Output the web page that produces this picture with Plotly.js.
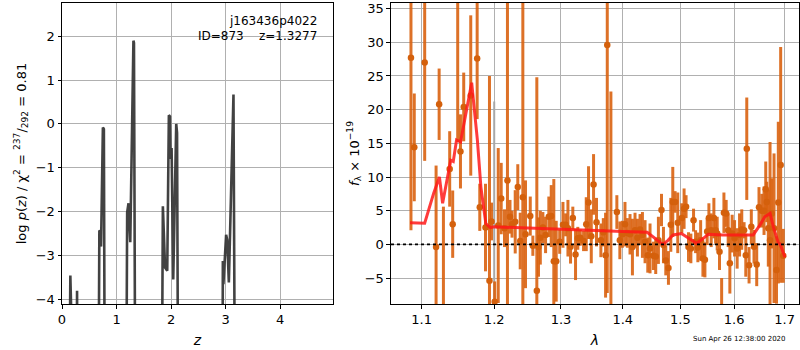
<!DOCTYPE html>
<html>
<head>
<meta charset="utf-8">
<script src="https://cdn.plot.ly/plotly-3.0.1.min.js"></script>
<style>html,body{margin:0;padding:0;background:#fff;}#chart{width:800px;height:350px;}</style>
</head>
<body>
<div id="chart"></div>
<script>
// ---- left panel: log p(z) ----
const zGrid = [0.00, 0.12, 0.153, 0.185, 0.26, 0.276, 0.292, 0.66, 0.685, 0.70, 0.716, 0.75, 0.768, 0.79,
  1.17, 1.195, 1.22, 1.232, 1.252, 1.31, 1.32, 1.35,
  1.80, 1.82, 1.85, 1.89, 1.93, 1.96, 1.98, 1.99, 2.01, 2.04, 2.095, 2.11, 2.137,
  2.92, 2.937, 2.95, 2.96, 3.01, 3.03, 3.06, 3.145, 3.18, 4.97];
const logPz = [-9, -9, -3.46, -9, -9, -3.81, -9, -9, -2.43, -2.45, -2.8, -0.08, -0.12, -9,
  -9, -2.02, -1.81, -2.2, -2.7, 1.90, 1.85, -9,
  -9, -9, -1.88, -3.28, -3.35, 0.2, 0.17, -0.8, -0.55, -3.55, 0.0, -0.2, -9,
  -9, -9, -3.13, -3.66, -2.53, -2.65, -3.62, 0.67, -9, -9];

// ---- right panel: spectrum ----
const lam = [1.0860, 1.0903, 1.1040, 1.1192, 1.1233, 1.1291, 1.1376, 1.1417, 1.1486, 1.1524,
  1.1569, 1.1667, 1.1757, 1.1794, 1.1875, 1.1932, 1.1961, 1.2007, 1.2058, 1.2101,
  1.2149, 1.2192, 1.2229, 1.2259, 1.2306, 1.2344, 1.2380, 1.2419, 1.2459, 1.2530,
  1.2569, 1.2629, 1.2654, 1.2682, 1.2721, 1.2762, 1.2812, 1.2849, 1.2889, 1.2926,
  1.2980, 1.3031, 1.3073, 1.3109, 1.3150, 1.3186, 1.3229, 1.3265, 1.3304, 1.3357,
  1.3400, 1.3437, 1.3481, 1.3518, 1.3566, 1.3637, 1.3677, 1.3714, 1.3742, 1.3802,
  1.3901, 1.3951, 1.3993, 1.4037, 1.4077, 1.4122, 1.4163, 1.4207, 1.4248, 1.4293,
  1.4334, 1.4379, 1.4426, 1.4465, 1.4524, 1.4564, 1.4611, 1.4665, 1.4700, 1.4741,
  1.4788, 1.4830, 1.4865, 1.4906, 1.4954, 1.5027, 1.5068, 1.5104, 1.5148, 1.5191,
  1.5240, 1.5277, 1.5319, 1.5370, 1.5412, 1.5449, 1.5491, 1.5523, 1.5566, 1.5616,
  1.5648, 1.5678, 1.5722, 1.5762, 1.5805, 1.5848, 1.5886, 1.5918, 1.5962, 1.6008,
  1.6058, 1.6104, 1.6147, 1.6192, 1.6225, 1.6244, 1.6289, 1.6333, 1.6386, 1.6439,
  1.6484, 1.6539, 1.6584, 1.6618, 1.6638, 1.6669, 1.6704, 1.6738, 1.6784, 1.6834,
  1.6870, 1.6918, 1.6971];
const flux = [27.7, 14.4, 27.0, -0.4, 20.8, -10, 11.2, 3.0, 40, 13.8,
  20.4, 22.1, 27.6, 5.5, 2.5, -5.4, 3.4, -8.5, 2.8, 6.8,
  2.4, 9.5, 4.1, 3.0, 3.35, 8.5, 0.5, 7.0, 1.5, 4.2,
  -0.2, -6.9, -0.4, 1.0, 2.5, 1.4, 4.1, 4.2, -2.5, -2.5,
  0.4, 2.9, 2.9, 2.4, -0.35, 3.9, -1.5, 0.9, 1.0, 0.5,
  3.0, 6.2, 1.2, 8.9, 3.3, 0.6, 1.8, -1.6, 29.6, -10,
  4.8, 0.6, 1.5, 3.0, 1.7, 1.5, -0.4, 2.1, 1.0, 2.2,
  1.4, 0.4, -1.6, -0.6, -1.7, -1.8, 0.6, 5.1, -0.1, -2.4,
  -3.5, 2.9, 6.3, 6.3, 3.2, 3.9, 5.3, 5.6, -0.4, -0.6,
  3.6, 0.4, -0.45, 0.6, -2.1, -2.3, 1.9, 3.9, 2.1, 3.9,
  2.1, 1.6, -1.1, -12, 4.7, 4.6, 2.1, -2.8, 1.6, 0.9,
  -0.6, 1.4, 2.2, 2.1, -1.6, 14.2, -3.1, 2.6, -0.35, -3.0,
  5.5, 5.0, 5.0, 8.2, 6.3, 2.4, 0.6, 4.6, 2.4, -3.8,
  6.2, 11.8, -1.7];
const fluxErr = [25.6, 8.0, 14.6, 12.1, 5.3, 15.6, 5.6, 5.0, 24.8, 5.5,
  5.1, 11.9, 9.0, 3.5, 6.5, 30.4, 2.8, 3.0, 11.5, 5.3,
  2.8, 30, 2.5, 2.0, 4.7, 3.4, 4.2, 30, 8.0, 2.9,
  1.5, 31.7, 4.4, 4.0, 2.3, 2.7, 3.0, 4.6, 12.2, 6.0,
  1.8, 3.4, 1.7, 4.2, 2.5, 1.7, 3.8, 1.7, 1.2, 1.5,
  4.0, 5.4, 4.0, 4.5, 3.6, 2.5, 2.1, 6.3, 36.8, 32.7,
  2.5, 2.8, 2.0, 3.3, 2.2, 3.0, 4.2, 2.6, 2.8, 2.3,
  3.4, 3.2, 2.6, 3.7, 2.1, 2.6, 3.5, 2.4, 2.7, 2.2,
  2.5, 4.0, 5.2, 1.6, 4.5, 2.2, 3.0, 1.7, 2.2, 2.2,
  1.7, 1.7, 2.2, 3.0, 2.7, 2.6, 2.0, 2.2, 2.5, 3.0,
  2.0, 2.5, 2.7, 7.0, 3.0, 2.0, 2.5, 4.5, 2.8, 2.7,
  3.0, 3.2, 3.0, 1.2, 3.2, 7.6, 2.7, 2.6, 2.5, 3.2,
  3.0, 2.5, 3.6, 4.1, 3.0, 5.7, 14.6, 5.2, 11.1, 5.0,
  12.0, 17.5, 4.0];

// masked (grey) point
const maskLam = [1.2000];
const maskFlux = [-8.5];
const maskErr = [29.7];

// model
const modelLam = [1.0848, 1.1040, 1.1160, 1.1237, 1.1280, 1.1390, 1.1425, 1.1470, 1.1525, 1.1680,
  1.1760, 1.1810, 1.1880, 1.1945, 1.2000, 1.3000, 1.4000, 1.4415, 1.4550, 1.4690,
  1.4780, 1.4870, 1.5020, 1.5140, 1.5295, 1.5420, 1.5510, 1.5780, 1.6370, 1.6505,
  1.6600, 1.6705, 1.6770, 1.6870, 1.6904, 1.7005];
const modelFlux = [3.2, 3.15, 7.6, 10.0, 6.1, 12.5, 12.3, 15.5, 15.2, 24.0,
  15.5, 8.5, 3.1, 2.5, 2.6, 2.2, 1.9, 1.8, 0.9, 0.0,
  0.6, 1.4, 1.6, 1.0, 0.15, 0.9, 1.5, 1.4, 1.4, 2.9,
  4.1, 4.6, 2.6, 0.25, 0.1, -1.9];

const xTicksLeft = [0, 1, 2, 3, 4];
const xTicksRight = [1.1, 1.2, 1.3, 1.4, 1.5, 1.6, 1.7];
const yTicksLeft = [-4, -3, -2, -1, 0, 1, 2];
const yTicksRight = [-5, 0, 5, 10, 15, 20, 25, 30, 35];

const FONT = 'DejaVu Sans, sans-serif';
const orange = 'rgba(217,98,16,0.9)';

const traces = [
  {x: zGrid, y: logPz, xaxis: 'x', yaxis: 'y', type: 'scatter', mode: 'lines',
   line: {color: 'rgba(50,50,50,0.92)', width: 2.6}, hoverinfo: 'skip'},
  {x: maskLam, y: maskFlux, xaxis: 'x2', yaxis: 'y2', type: 'scatter', mode: 'markers',
   marker: {size: 1, color: 'rgba(0,0,0,0)'},
   error_y: {type: 'data', array: maskErr, visible: true, thickness: 2, width: 0, color: '#a8a8a8'}},
  {x: lam, y: flux, xaxis: 'x2', yaxis: 'y2', type: 'scatter', mode: 'markers',
   marker: {size: 6.5, color: 'rgb(212,96,12)'},
   error_y: {type: 'data', array: fluxErr, visible: true, thickness: 3, width: 0, color: orange}},
  {x: modelLam, y: modelFlux, xaxis: 'x2', yaxis: 'y2', type: 'scatter', mode: 'lines',
   line: {color: 'rgba(255,25,25,0.85)', width: 3}}
];

const axisCommon = {
  showline: true, mirror: true, linecolor: '#000', linewidth: 1,
  ticks: 'outside', ticklen: 3.5, tickwidth: 1, tickcolor: '#000',
  showgrid: true, gridcolor: '#b0b0b0', gridwidth: 1, zeroline: false,
  tickfont: {family: FONT, size: 13, color: '#000'}
};

const layout = {
  width: 800, height: 350,
  margin: {l: 62, r: 1, t: 3, b: 46},
  paper_bgcolor: '#fff', plot_bgcolor: '#fff',
  showlegend: false,
  font: {family: FONT, color: '#000'},
  xaxis: Object.assign({}, axisCommon, {
    domain: [0, 0.3677], range: [0, 4.97], tickvals: xTicksLeft,
    title: {text: '<i>z</i>', font: {family: FONT, size: 14}, standoff: 9}
  }),
  yaxis: Object.assign({}, axisCommon, {
    anchor: 'x', range: [-4.11, 2.76], tickvals: yTicksLeft,
    title: {text: 'log <i>p</i>(<i>z</i>) / χ<sup>2</sup> = <sup>237</sup>/<sub>292</sub> = 0.81',
            font: {family: FONT, size: 13}, standoff: 6}
  }),
  xaxis2: Object.assign({}, axisCommon, {
    domain: [0.4464, 1], anchor: 'y2', type: 'log',
    range: [Math.log10(1.0603), Math.log10(1.7294)],
    tickvals: xTicksRight, ticktext: xTicksRight.map(v => v.toFixed(1)),
    title: {text: '<i>λ</i>', font: {family: FONT, size: 14}, standoff: 9}
  }),
  yaxis2: Object.assign({}, axisCommon, {
    anchor: 'x2', range: [-8.85, 35.83], tickvals: yTicksRight,
    title: {text: '<i>f</i><sub>λ</sub> × 10<sup>−19</sup>', font: {family: FONT, size: 13}, standoff: 2}
  }),
  shapes: [
    {type: 'line', xref: 'x2 domain', x0: 0, x1: 1, yref: 'y2', y0: 0, y1: 0,
     line: {color: '#000', width: 1.6, dash: 'dot'}, layer: 'above'}
  ],
  annotations: [
    {xref: 'x domain', yref: 'y domain', x: 0.947, y: 0.94, xanchor: 'right', yanchor: 'middle',
     text: 'j163436p4022', showarrow: false, font: {family: FONT, size: 12, color: '#000'}},
    {xref: 'x domain', yref: 'y domain', x: 0.947, y: 0.89, xanchor: 'right', yanchor: 'middle',
     text: 'ID=873    z=1.3277', showarrow: false, font: {family: FONT, size: 12, color: '#000'}},
    {xref: 'paper', yref: 'paper', x: 0.985, y: -0.116, xanchor: 'right', yanchor: 'middle',
     text: 'Sun Apr 26 12:38:00 2020', showarrow: false, font: {family: FONT, size: 7, color: '#000'}}
  ]
};

Plotly.newPlot('chart', traces, layout, {displayModeBar: false, staticPlot: true});
</script>
</body>
</html>
